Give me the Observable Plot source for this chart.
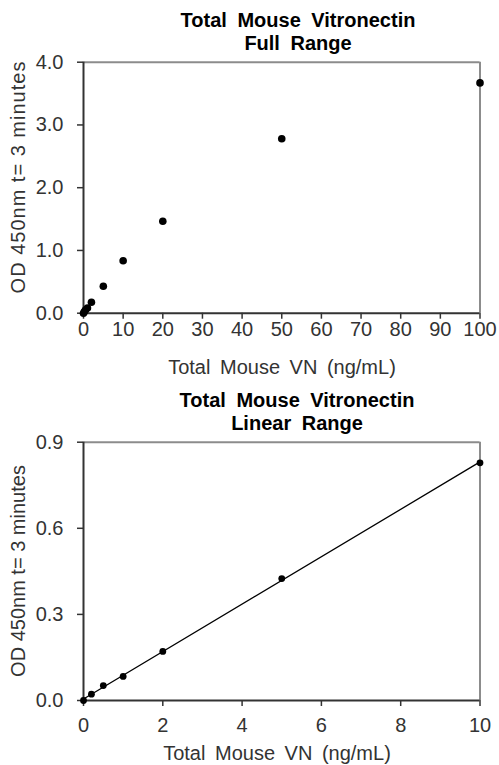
<!DOCTYPE html>
<html><head><meta charset="utf-8">
<script src="https://cdn.jsdelivr.net/npm/d3@7"></script>
<script src="https://cdn.jsdelivr.net/npm/@observablehq/plot@0.6"></script>
<style>
body{margin:0;background:#fff;font-family:"Liberation Sans",Arial,sans-serif;}
#wrap{position:relative;width:499px;height:765px;overflow:hidden;background:#fff;}
.t{position:absolute;font-size:20px;line-height:23px;color:#000;white-space:nowrap;transform:translateX(-50%);text-align:center;font-weight:bold;word-spacing:5px;}
.xl{position:absolute;font-size:20px;line-height:23px;color:#333;white-space:nowrap;transform:translateX(-50%);word-spacing:4px;}
.yl{position:absolute;font-size:20px;line-height:23px;color:#333;white-space:nowrap;transform:translate(-50%,-50%) rotate(-90deg);}
.p{position:absolute;left:0;}
</style></head><body>
<div id="wrap">
  <div class="t" style="left:298px;top:9px">Total Mouse Vitronectin<br>Full Range</div>
  <div class="xl" style="left:282px;top:356px">Total Mouse VN (ng/mL)</div>
  <div class="yl" style="left:18px;top:177px;letter-spacing:1px">OD 450nm t= 3 minutes</div>
  <div class="p" id="c1" style="top:50px"></div>
  <div class="t" style="left:297px;top:389px">Total Mouse Vitronectin<br>Linear Range</div>
  <div class="xl" style="left:277px;top:742px">Total Mouse VN (ng/mL)</div>
  <div class="yl" style="left:18px;top:571px">OD 450nm t= 3 minutes</div>
  <div class="p" id="c2" style="top:430px"></div>
</div>
<script>
// Full range data
const concFull = [0, 0.2, 0.5, 1, 2, 5, 10, 20, 50, 100];
const odFull = [0, 0.022, 0.052, 0.084, 0.175, 0.43, 0.835, 1.465, 2.78, 3.67];
const xTicksFull = [0, 10, 20, 30, 40, 50, 60, 70, 80, 90, 100];
const yTicksFull = [0, 1, 2, 3, 4];
// Linear range data
const concLin = [0, 0.2, 0.5, 1, 2, 5, 10];
const odLin = [0, 0.022, 0.052, 0.084, 0.171, 0.425, 0.828];
const xTicksLin = [0, 2, 4, 6, 8, 10];
const yTicksLin = [0, 0.3, 0.6, 0.9];

const full = concFull.map((c, i) => ({c, od: odFull[i]}));
const lin = concLin.map((c, i) => ({c, od: odLin[i]}));

const axisColor = "#333";
const frameGray = "#8c8c8c";
const font = {fontFamily: "'Liberation Sans', Arial, sans-serif", fontSize: "20px", background: "transparent", overflow: "visible"};

function chart({data, xDomain, yDomain, xTicks, yTicks, height, marginTop, marginBottom, xPad, r, fit}) {
  return Plot.plot({
    width: 499, height, marginTop, marginBottom, marginLeft: 83, marginRight: 19.5,
    style: font,
    x: {domain: xDomain, ticks: xTicks},
    y: {domain: yDomain, ticks: yTicks},
    marks: [
      Plot.ruleY([yDomain[1]], {stroke: frameGray, strokeWidth: 2}),
      Plot.ruleX([xDomain[1]], {stroke: frameGray, strokeWidth: 2}),
      Plot.axisX({ticks: xTicks, tickSize: 6, tickPadding: xPad, fontSize: 20, color: axisColor, strokeWidth: 1.5, label: null, tickFormat: d => String(d)}),
      Plot.axisY({ticks: yTicks, tickSize: 6, tickPadding: 14, fontSize: 20, color: axisColor, strokeWidth: 1.5, label: null, tickFormat: d => d.toFixed(1)}),
      Plot.ruleY([yDomain[0]], {stroke: axisColor, strokeWidth: 2}),
      Plot.ruleX([xDomain[0]], {stroke: axisColor, strokeWidth: 2}),
      ...(fit ? [Plot.linearRegressionY(data, {x: "c", y: "od", stroke: "#000", strokeWidth: 1.3, ci: 0})] : []),
      Plot.dot(data, {x: "c", y: "od", r, fill: "#000", stroke: "none"})
    ]
  });
}

document.getElementById("c1").append(chart({
  data: full, xDomain: [0, 100], yDomain: [0, 4], xTicks: xTicksFull, yTicks: yTicksFull,
  height: 330, marginTop: 11.7, marginBottom: 67.3, xPad: 3, r: 3.8, fit: false
}));
document.getElementById("c2").append(chart({
  data: lin, xDomain: [0, 10], yDomain: [0, 0.9], xTicks: xTicksLin, yTicks: yTicksLin,
  height: 335, marginTop: 11.7, marginBottom: 65, xPad: 11, r: 3.4, fit: true
}));
</script>
</body></html>
